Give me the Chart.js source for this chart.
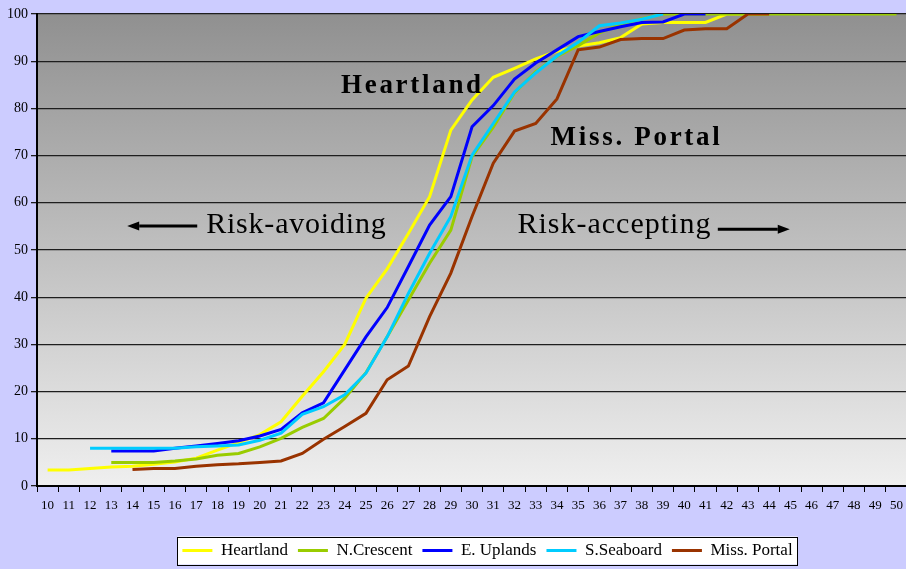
<!DOCTYPE html>
<html>
<head>
<meta charset="utf-8">
<script src="https://cdn.jsdelivr.net/npm/chart.js@4/dist/chart.umd.min.js"></script>
<style>
  html, body { margin: 0; padding: 0; background: #CCCCFF; overflow: hidden; }
  #wrap { width: 906px; height: 569px; overflow: hidden; }
  #chart { display: block; }
</style>
</head>
<body>
<div id="wrap"><canvas id="chart" width="909" height="569"></canvas></div>
<script>
// Score categories along the horizontal axis
const categories = ['10','11','12','13','14','15','16','17','18','19','20',
                    '21','22','23','24','25','26','27','28','29','30',
                    '31','32','33','34','35','36','37','38','39','40',
                    '41','42','43','44','45','46','47','48','49','50'];

// Cumulative percentage for each region (null = no observation)
const heartland = [3.4, 3.4, 3.7, 4.0, 4.2, 4.6, 5.1, 5.9, 7.6, 9.2, 10.9,
                   13.6, 19.0, 24.2, 30.0, 39.8, 46.0, 53.5, 61.3, 75.4, 81.8,
                   86.6, 88.5, 90.5, 92.1, 93.2, 93.9, 95.0, 97.9, 98.2, 98.2,
                   98.2, 100, 100, 100, null, null, null, null, null, null];

const nCrescent = [null, null, null, 5.0, 5.0, 5.0, 5.3, 5.7, 6.5, 6.9, 8.3,
                   10.1, 12.4, 14.3, 18.6, 24.0, 31.6, 39.4, 47.2, 54.2, 69.8,
                   76.0, 83.3, 87.8, 91.0, 93.3, 96.0, 97.8, 99.0, 100, 100,
                   100, 100, 100, 100, 100, 100, 100, 100, 100, 100];

const eUplands = [null, null, null, 7.4, 7.4, 7.4, 8.0, 8.5, 9.0, 9.6, 10.6,
                  12.0, 15.5, 17.6, 24.6, 31.6, 37.8, 46.5, 55.3, 61.3, 76.1,
                  80.6, 86.2, 89.6, 92.4, 95.2, 96.3, 97.3, 98.2, 98.3, 100,
                  100, null, null, null, null, null, null, null, null, null];

const sSeaboard = [null, null, 8.0, 8.0, 8.0, 8.0, 8.0, 8.3, 8.5, 8.7, 9.7,
                   11.2, 15.2, 16.8, 19.3, 23.9, 31.6, 40.8, 49.3, 57.1, 70.1,
                   76.8, 83.5, 87.5, 91.1, 94.0, 97.5, 98.1, 98.9, 100, null,
                   null, null, null, null, null, null, null, null, null, null];

const missPortal = [null, null, null, null, 3.5, 3.7, 3.7, 4.2, 4.5, 4.7, 5.0,
                    5.3, 6.9, 9.9, 12.6, 15.4, 22.5, 25.4, 35.9, 45.1, 57.1,
                    68.4, 75.2, 76.8, 82.0, 92.4, 93.0, 94.6, 94.8, 94.8, 96.6,
                    96.9, 96.9, 100, 100, null, null, null, null, null, null];

const seriesNames = ['Heartland', 'N.Crescent', 'E. Uplands', 'S.Seaboard', 'Miss. Portal'];
const seriesColors = ['#FFFF00', '#99CC00', '#0000FF', '#00CCFF', '#993300'];

// Value axis
const yMin = 0, yMax = 100, yStep = 10;

const SERIF = "'Liberation Serif', 'Times New Roman', serif";

// Text notes placed in data space: x is a category index (fractional allowed), y is a percentage
const notes = [
  { text: 'Heartland',      x: 17.19, y: 83.2, bold: true,  size: 27, spacing: 2.7, align: 'center' },
  { text: 'Miss. Portal',   x: 27.75, y: 72.2, bold: true,  size: 27, spacing: 2.7, align: 'center' },
  { text: 'Risk-avoiding',  x: 7.47,  y: 53.5, bold: false, size: 30, spacing: 0.8, align: 'left' },
  { text: 'Risk-accepting', x: 22.14, y: 53.5, bold: false, size: 30, spacing: 1.0, align: 'left' }
];
const arrows = [
  { from: 7.05,  to: 3.75,  y: 55.1 },
  { from: 31.58, to: 34.97, y: 54.4 }
];

// Horizontal offset of the legend row from the canvas centre
const legendShift = 33;

const valueLists = [heartland, nCrescent, eUplands, sSeaboard, missPortal];
const datasets = valueLists.map((values, i) => ({
  label: seriesNames[i],
  data: values,
  borderColor: seriesColors[i],
  backgroundColor: seriesColors[i],
  borderWidth: 3,
  pointRadius: 0,
  tension: 0,
  fill: false,
  spanGaps: false,
  // later series are painted over earlier ones
  order: valueLists.length - i
}));

function legendFrame(chart) {
  const boxes = chart.legend && chart.legend.legendHitBoxes;
  if (!boxes || !boxes.length) return null;
  let l = Infinity, r = -Infinity;
  boxes.forEach(b => { l = Math.min(l, b.left); r = Math.max(r, b.left + b.width); });
  const cy = boxes[0].top + boxes[0].height / 2;
  return { x: l - 5, y: cy - 14, w: (r - l) + 10, h: 28 };
}

// Gradient plot background, page colour and framed white legend panel
const backdrop = {
  id: 'backdrop',
  afterUpdate(chart) {
    const lg = chart.legend;
    if (!lg) return;
    lg.left += legendShift;
    lg.right += legendShift;
    lg.legendHitBoxes.forEach(h => { h.left += legendShift; });
  },
  beforeDraw(chart) {
    const { ctx, chartArea: a } = chart;
    ctx.save();
    ctx.fillStyle = '#CCCCFF';
    ctx.fillRect(0, 0, chart.width, chart.height);
    const g = ctx.createLinearGradient(0, a.top, 0, a.bottom);
    g.addColorStop(0, '#909090');
    g.addColorStop(1, '#EFEFEF');
    ctx.fillStyle = g;
    ctx.fillRect(a.left, a.top, a.right - a.left, a.bottom - a.top);
    const f = legendFrame(chart);
    if (f) {
      ctx.fillStyle = '#FFFFFF';
      ctx.fillRect(f.x, f.y, f.w, f.h);
    }
    ctx.restore();
  },
  afterDraw(chart) {
    const f = legendFrame(chart);
    if (!f) return;
    const ctx = chart.ctx;
    ctx.save();
    ctx.strokeStyle = '#000';
    ctx.lineWidth = 1;
    ctx.strokeRect(Math.round(f.x) + 0.5, Math.round(f.y) + 0.5, Math.round(f.w), Math.round(f.h));
    ctx.restore();
  }
};

// Text notes and direction arrows
const notesLayer = {
  id: 'notesLayer',
  afterDatasetsDraw(chart) {
    const { ctx, scales: { x, y } } = chart;
    ctx.save();
    ctx.fillStyle = '#000';
    ctx.textBaseline = 'alphabetic';
    notes.forEach(n => {
      ctx.font = (n.bold ? 'bold ' : '') + n.size + 'px ' + SERIF;
      ctx.letterSpacing = n.spacing + 'px';
      ctx.textAlign = n.align;
      ctx.fillText(n.text, x.getPixelForValue(n.x), y.getPixelForValue(n.y));
    });
    ctx.letterSpacing = '0px';
    ctx.strokeStyle = '#000';
    ctx.lineWidth = 3;
    arrows.forEach(a => {
      const x0 = x.getPixelForValue(a.from);
      const x1 = x.getPixelForValue(a.to);
      const yy = y.getPixelForValue(a.y);
      const dir = Math.sign(x1 - x0);
      const head = 12;
      ctx.beginPath();
      ctx.moveTo(x0, yy);
      ctx.lineTo(x1 - dir * head, yy);
      ctx.stroke();
      ctx.beginPath();
      ctx.moveTo(x1, yy);
      ctx.lineTo(x1 - dir * head, yy - 4.5);
      ctx.lineTo(x1 - dir * head, yy + 4.5);
      ctx.closePath();
      ctx.fill();
    });
    ctx.restore();
  }
};

new Chart(document.getElementById('chart'), {
  type: 'line',
  data: { labels: categories, datasets },
  plugins: [backdrop, notesLayer],
  options: {
    responsive: false,
    devicePixelRatio: 1,
    animation: false,
    events: [],
    layout: { padding: { top: 14, right: 0, bottom: 0, left: 0 } },
    scales: {
      x: {
        type: 'category',
        offset: true,
        grid: { offset: true, drawOnChartArea: false, drawTicks: true, tickLength: 6, color: '#000', lineWidth: 1 },
        border: { display: true, color: '#000', width: 2 },
        ticks: { font: { family: SERIF, size: 13 }, color: '#000', padding: 6, maxRotation: 0, autoSkip: false },
        afterFit(s) { s.height = 46; }
      },
      y: {
        min: yMin,
        max: yMax,
        grid: { color: '#1e1e1e', lineWidth: 1.3, tickLength: 6 },
        border: { display: true, color: '#000', width: 2 },
        ticks: { stepSize: yStep, font: { family: SERIF, size: 14 }, color: '#000', padding: 3 },
        afterFit(s) { s.width = 37; }
      }
    },
    plugins: {
      tooltip: { enabled: false },
      legend: {
        position: 'bottom',
        labels: {
          boxWidth: 30,
          boxHeight: 3,
          padding: 10,
          color: '#000',
          font: { family: SERIF, size: 17 },
          generateLabels(chart) {
            const items = Chart.defaults.plugins.legend.labels.generateLabels(chart);
            items.sort((a, b) => a.datasetIndex - b.datasetIndex);
            items.forEach(it => { it.fillStyle = it.strokeStyle; it.lineWidth = 0; });
            return items;
          }
        }
      }
    }
  }
});
</script>
</body>
</html>
